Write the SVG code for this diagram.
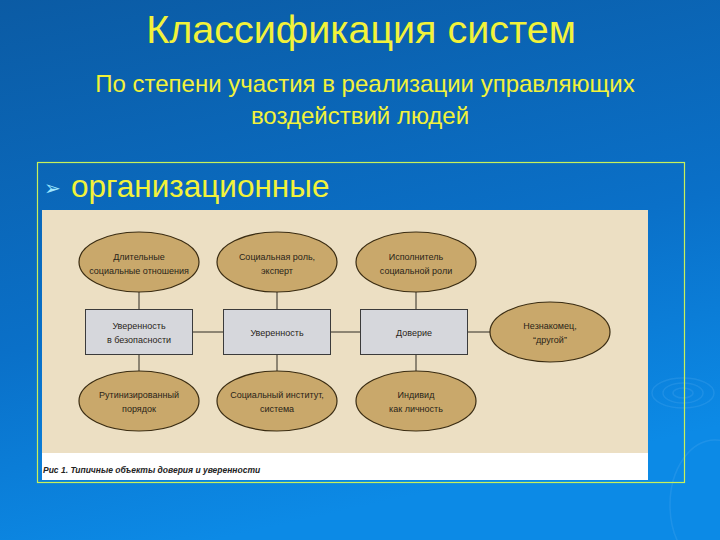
<svg xmlns="http://www.w3.org/2000/svg" width="720" height="540" viewBox="0 0 720 540">
<defs>
<linearGradient id="bg" x1="0" y1="0" x2="0.3" y2="1">
<stop offset="0" stop-color="#0b5ba4"/>
<stop offset="0.6" stop-color="#0a70c8"/>
<stop offset="1" stop-color="#0c8ae6"/>
</linearGradient>
<style>
.title{font-family:"Liberation Sans",Arial,sans-serif;fill:#f2f23a;text-anchor:middle}
.nt{font-family:"Liberation Sans",Arial,sans-serif;font-size:9px;fill:#2a2418;text-anchor:middle}
.ell{fill:#c9a86b;stroke:#3a2c12;stroke-width:1.2}
.box{fill:#d6d7dc;stroke:#3b3b3b;stroke-width:1}
.con{stroke:#2e2a22;stroke-width:1;fill:none}
.rip{fill:none;stroke:#5fb2f0;stroke-opacity:0.22;stroke-width:1.5}
</style>
</defs>
<rect x="0" y="0" width="720" height="540" fill="url(#bg)"/>
<g id="ripples">
<ellipse class="rip" cx="683" cy="393" rx="10" ry="5"/>
<ellipse class="rip" cx="683" cy="393" rx="20" ry="10"/>
<ellipse class="rip" cx="683" cy="393" rx="31" ry="15"/>
<ellipse class="rip" cx="715" cy="505" rx="45" ry="65" stroke-opacity="0.12"/>
</g>
<text class="title" x="361" y="43" font-size="39.5">Классификация систем</text>
<text class="title" x="365" y="92" font-size="24">По степени участия в реализации управляющих</text>
<text class="title" x="360" y="124" font-size="24">воздействий людей</text>
<rect x="37.5" y="162.5" width="647" height="320" fill="none" stroke="#c8f05a" stroke-width="1.2"/>
<text x="44" y="195" font-family="DejaVu Sans,sans-serif" font-size="20" fill="#9fe8ff">➢</text>
<text x="71" y="197" font-family="Liberation Sans,Arial,sans-serif" font-size="31.5" fill="#f2f23a">организационные</text>
<rect x="42" y="210" width="606" height="243" fill="#ecdfc3"/>
<rect x="42" y="453" width="606" height="27" fill="#ffffff"/>
<text x="43" y="473" font-family="Liberation Sans,Arial,sans-serif" font-size="8.5" font-style="italic" font-weight="bold" fill="#222">Рис 1. Типичные объекты доверия и уверенности</text>
<g id="connectors">
<line class="con" x1="139" y1="292" x2="139" y2="309"/>
<line class="con" x1="277" y1="292" x2="277" y2="309"/>
<line class="con" x1="416" y1="292" x2="416" y2="309"/>
<line class="con" x1="139" y1="355" x2="139" y2="371"/>
<line class="con" x1="277" y1="355" x2="277" y2="371"/>
<line class="con" x1="416" y1="355" x2="416" y2="371"/>
<line class="con" x1="193" y1="332" x2="223" y2="332"/>
<line class="con" x1="330" y1="332" x2="360" y2="332"/>
<line class="con" x1="467" y1="332" x2="490" y2="332"/>
</g>
<g id="n1"><ellipse class="ell" cx="139" cy="262" rx="60" ry="30"/><text class="nt" x="139" y="260">Длительные</text><text class="nt" x="139" y="274">социальные отношения</text></g>
<g id="n2"><ellipse class="ell" cx="277" cy="262" rx="60" ry="30"/><text class="nt" x="277" y="260">Социальная роль,</text><text class="nt" x="277" y="274">эксперт</text></g>
<g id="n3"><ellipse class="ell" cx="416" cy="262" rx="60" ry="30"/><text class="nt" x="416" y="260">Исполнитель</text><text class="nt" x="416" y="274">социальной роли</text></g>
<g id="n4"><rect class="box" x="85.5" y="309.5" width="107" height="45"/><text class="nt" x="139" y="329">Уверенность</text><text class="nt" x="139" y="343">в безопасности</text></g>
<g id="n5"><rect class="box" x="223.5" y="309.5" width="107" height="45"/><text class="nt" x="277" y="336">Уверенность</text></g>
<g id="n6"><rect class="box" x="360.5" y="309.5" width="107" height="45"/><text class="nt" x="414" y="336">Доверие</text></g>
<g id="n7"><ellipse class="ell" cx="550" cy="332" rx="60" ry="30"/><text class="nt" x="550" y="329">Незнакомец,</text><text class="nt" x="550" y="343">“другой”</text></g>
<g id="n8"><ellipse class="ell" cx="139" cy="401" rx="60" ry="30"/><text class="nt" x="139" y="398">Рутинизированный</text><text class="nt" x="139" y="412">порядок</text></g>
<g id="n9"><ellipse class="ell" cx="277" cy="401" rx="60" ry="30"/><text class="nt" x="277" y="398">Социальный институт,</text><text class="nt" x="277" y="412">система</text></g>
<g id="n10"><ellipse class="ell" cx="416" cy="401" rx="60" ry="30"/><text class="nt" x="416" y="398">Индивид</text><text class="nt" x="416" y="412">как личность</text></g>
</svg>
